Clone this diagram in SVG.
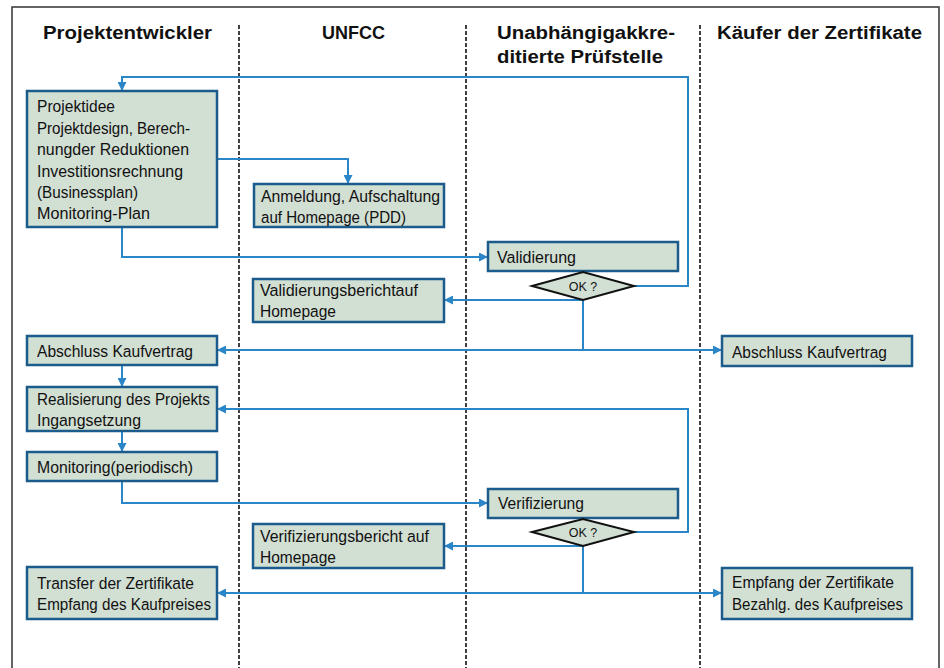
<svg xmlns="http://www.w3.org/2000/svg" width="944" height="668" viewBox="0 0 944 668">
<style>
.frame{fill:none;stroke:#333;stroke-width:1.5}
.lane{fill:none;stroke:#111;stroke-width:1.6;stroke-dasharray:4 2}
.hd{font-family:"Liberation Sans",Arial,sans-serif;font-weight:bold;font-size:17.5px;fill:#111}
.box{fill:#d2dfd3;stroke:#1b5c8c;stroke-width:2.5}
.dia{fill:#d2dfd3;stroke:#111;stroke-width:2}
.t{font-family:"Liberation Sans Narrow","Liberation Sans",Arial,sans-serif;font-size:16.3px;fill:#111}
.ok{font-family:"Liberation Sans Narrow","Liberation Sans",Arial,sans-serif;font-size:12.5px;fill:#111;text-anchor:middle}
.c{fill:none;stroke:#2a86c6;stroke-width:2}
.ca{fill:none;stroke:#2a86c6;stroke-width:2;marker-end:url(#ah)}
</style>
<defs>
<marker id="ah" viewBox="0 0 10 10" refX="10" refY="5" markerWidth="10" markerHeight="9" markerUnits="userSpaceOnUse" orient="auto">
<path d="M0,0 L10,5 L0,10 z" fill="#2a86c6"/>
</marker>
</defs>
<rect width="944" height="668" fill="#fff"/>
<path class="frame" d="M12,668 V7 H939 V668"/>
<g id="lanes">
<line class="lane" x1="239" y1="25" x2="239" y2="668"/>
<line class="lane" x1="466" y1="25" x2="466" y2="668"/>
<line class="lane" x1="700" y1="25" x2="700" y2="668"/>
</g>
<g id="headers">
<text class="hd" x="43" y="39" textLength="169" lengthAdjust="spacingAndGlyphs">Projektentwickler</text>
<text class="hd" x="322" y="39" textLength="63" lengthAdjust="spacingAndGlyphs">UNFCC</text>
<text class="hd" x="497" y="39" textLength="178" lengthAdjust="spacingAndGlyphs">Unabhängigakkre-</text>
<text class="hd" x="497" y="63" textLength="166" lengthAdjust="spacingAndGlyphs">ditierte Prüfstelle</text>
<text class="hd" x="717" y="39" textLength="205" lengthAdjust="spacingAndGlyphs">Käufer der Zertifikate</text>
</g>
<g id="connectors">
<path class="ca" d="M634,286 H688 V77 H122 V91"/>
<path class="ca" d="M217,159 H348 V184"/>
<path class="ca" d="M122,227 V257 H488"/>
<path class="ca" d="M583,300 H444"/>
<path class="c" d="M583,300 V350"/>
<path class="ca" d="M583,350 H217"/>
<path class="ca" d="M583,350 H722"/>
<path class="ca" d="M122,365 V387"/>
<path class="ca" d="M634,532 H688 V409 H217"/>
<path class="ca" d="M122,431 V452"/>
<path class="ca" d="M122,481 V503 H488"/>
<path class="ca" d="M583,546 H444"/>
<path class="c" d="M583,546 V593"/>
<path class="ca" d="M583,593 H217"/>
<path class="ca" d="M583,593 H722"/>
</g>
<g id="projektidee">
<rect class="box" x="27" y="91" width="190" height="136"/>
<text class="t" x="37" y="112" textLength="78" lengthAdjust="spacingAndGlyphs">Projektidee</text>
<text class="t" x="37" y="134" textLength="153" lengthAdjust="spacingAndGlyphs">Projektdesign, Berech-</text>
<text class="t" x="37" y="155" textLength="152" lengthAdjust="spacingAndGlyphs">nungder Reduktionen</text>
<text class="t" x="37" y="177" textLength="146" lengthAdjust="spacingAndGlyphs">Investitionsrechnung</text>
<text class="t" x="37" y="198" textLength="101" lengthAdjust="spacingAndGlyphs">(Businessplan)</text>
<text class="t" x="37" y="219" textLength="113" lengthAdjust="spacingAndGlyphs">Monitoring-Plan</text>
</g>
<g id="anmeldung">
<rect class="box" x="254" y="184" width="190" height="43"/>
<text class="t" x="261" y="202" textLength="179" lengthAdjust="spacingAndGlyphs">Anmeldung, Aufschaltung</text>
<text class="t" x="261" y="223" textLength="145" lengthAdjust="spacingAndGlyphs">auf Homepage (PDD)</text>
</g>
<g id="validierung">
<rect class="box" x="488" y="242" width="190" height="29"/>
<text class="t" x="497" y="263" textLength="79" lengthAdjust="spacingAndGlyphs">Validierung</text>
</g>
<g id="ok1">
<polygon class="dia" points="532,286 583,272 634,286 583,300"/>
<text class="ok" x="583" y="291">OK ?</text>
</g>
<g id="validierungsbericht">
<rect class="box" x="253" y="279" width="191" height="43"/>
<text class="t" x="260" y="296" textLength="158" lengthAdjust="spacingAndGlyphs">Validierungsberichtauf</text>
<text class="t" x="260" y="317" textLength="76" lengthAdjust="spacingAndGlyphs">Homepage</text>
</g>
<g id="abschluss1">
<rect class="box" x="27" y="336" width="190" height="29"/>
<text class="t" x="37" y="357" textLength="156" lengthAdjust="spacingAndGlyphs">Abschluss Kaufvertrag</text>
</g>
<g id="abschluss2">
<rect class="box" x="722" y="336" width="190" height="30"/>
<text class="t" x="732" y="358" textLength="155" lengthAdjust="spacingAndGlyphs">Abschluss Kaufvertrag</text>
</g>
<g id="realisierung">
<rect class="box" x="27" y="387" width="190" height="44"/>
<text class="t" x="37" y="405" textLength="173" lengthAdjust="spacingAndGlyphs">Realisierung des Projekts</text>
<text class="t" x="37" y="426" textLength="104" lengthAdjust="spacingAndGlyphs">Ingangsetzung</text>
</g>
<g id="monitoring">
<rect class="box" x="27" y="452" width="190" height="29"/>
<text class="t" x="37" y="473" textLength="156" lengthAdjust="spacingAndGlyphs">Monitoring(periodisch)</text>
</g>
<g id="verifizierung">
<rect class="box" x="488" y="489" width="190" height="29"/>
<text class="t" x="498" y="509" textLength="86" lengthAdjust="spacingAndGlyphs">Verifizierung</text>
</g>
<g id="ok2">
<polygon class="dia" points="532,532 583,519 634,532 583,546"/>
<text class="ok" x="583" y="537">OK ?</text>
</g>
<g id="verifizierungsbericht">
<rect class="box" x="253" y="524" width="191" height="44"/>
<text class="t" x="260" y="542" textLength="169" lengthAdjust="spacingAndGlyphs">Verifizierungsbericht auf</text>
<text class="t" x="260" y="563" textLength="76" lengthAdjust="spacingAndGlyphs">Homepage</text>
</g>
<g id="transfer">
<rect class="box" x="27" y="567" width="190" height="52"/>
<text class="t" x="37" y="589" textLength="157" lengthAdjust="spacingAndGlyphs">Transfer der Zertifikate</text>
<text class="t" x="37" y="610" textLength="174" lengthAdjust="spacingAndGlyphs">Empfang des Kaufpreises</text>
</g>
<g id="empfang">
<rect class="box" x="722" y="568" width="190" height="51"/>
<text class="t" x="732" y="588" textLength="162" lengthAdjust="spacingAndGlyphs">Empfang der Zertifikate</text>
<text class="t" x="732" y="610" textLength="171" lengthAdjust="spacingAndGlyphs">Bezahlg. des Kaufpreises</text>
</g>
</svg>
